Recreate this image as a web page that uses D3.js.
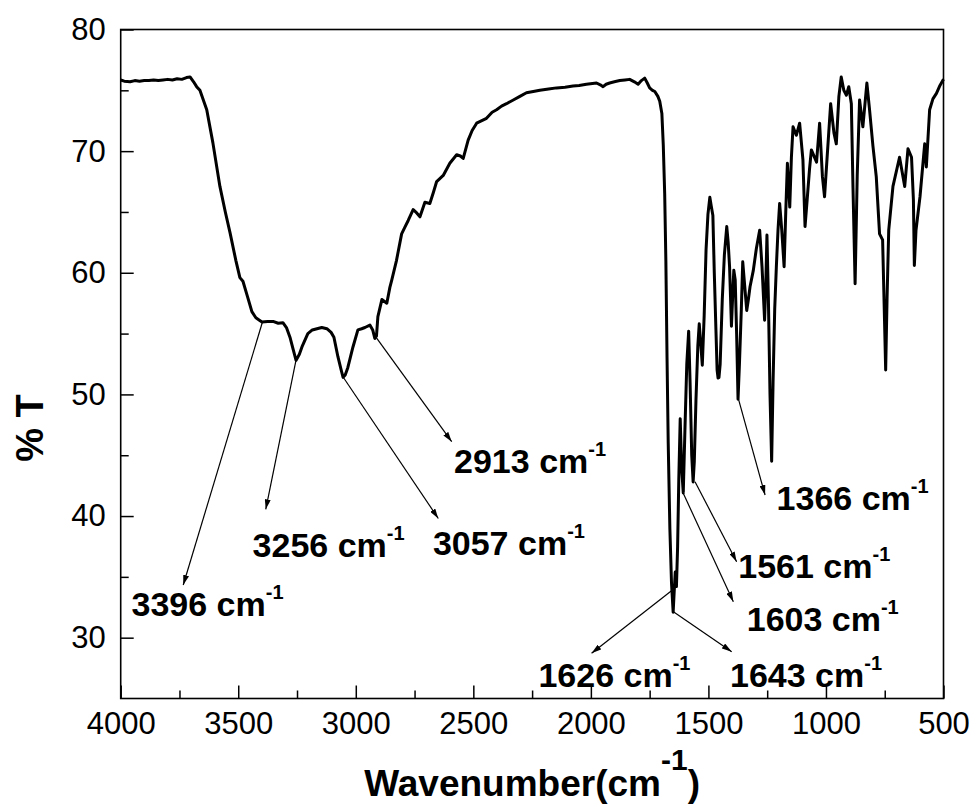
<!DOCTYPE html>
<html>
<head>
<meta charset="utf-8">
<script src="https://cdn.jsdelivr.net/npm/d3@7"></script>
<style>
  body { margin: 0; background: #fff; }
  svg { display: block; }
  text { font-family: "Liberation Sans", Arial, sans-serif; fill: #000; }
</style>
</head>
<body>
<svg id="chart" width="976" height="810"></svg>
<script>
// FTIR spectrum
const wavenumber = [
  4000, 3985, 3960, 3940, 3920, 3900, 3880, 3860, 3840, 3820, 3800, 3780, 3760, 3740, 3720, 3705,
  3690, 3677, 3663, 3634, 3608, 3578, 3555, 3535, 3510, 3493, 3480, 3460, 3442, 3425, 3410, 3399,
  3375, 3352, 3330, 3310, 3295, 3280, 3265, 3254, 3240, 3229, 3204, 3185, 3165, 3145, 3123, 3105,
  3093, 3076, 3062, 3054, 3045, 3034, 3012, 2991, 2975, 2961, 2940, 2928, 2919, 2912, 2906, 2889,
  2868, 2855, 2847, 2827, 2805, 2790, 2777, 2756, 2740, 2727, 2706, 2685, 2670, 2656, 2628, 2600,
  2571, 2555, 2543, 2522, 2505, 2486, 2444, 2420, 2401, 2380, 2359, 2330, 2302, 2274, 2245, 2217,
  2180, 2146, 2110, 2076, 2050, 2019, 1976, 1960, 1948, 1935, 1920, 1900, 1877, 1855, 1835, 1815,
  1799, 1785, 1771, 1760, 1750, 1738, 1728, 1715, 1707, 1698, 1692, 1686, 1681, 1676, 1671, 1664,
  1657, 1650, 1645, 1641, 1636, 1631, 1626, 1620, 1614, 1607, 1600, 1592, 1584, 1578, 1571, 1565,
  1560, 1553, 1545, 1539, 1532, 1526, 1518, 1510, 1502, 1494, 1488, 1481, 1475, 1468, 1463, 1459,
  1455, 1450, 1441, 1432, 1422, 1416, 1410, 1402, 1397, 1392, 1386, 1380, 1374, 1368, 1360, 1354,
  1346, 1337, 1330, 1323, 1309, 1296, 1282, 1272, 1261, 1256, 1251, 1245, 1238, 1231, 1225, 1218,
  1211, 1204, 1197, 1188, 1178, 1171, 1164, 1154, 1147, 1140, 1126, 1112, 1098, 1089, 1080, 1070,
  1062, 1040, 1027, 1015, 1006, 995, 980, 966, 956, 945, 935, 924, 913, 903, 892, 885,
  876, 867, 857, 843, 826, 815, 800, 786, 772, 759, 752, 746, 740, 733, 715, 687,
  665, 651, 636, 628, 624, 617, 600, 580, 573, 559, 545, 530, 515, 500
];
const transmittance = [
  75.85, 75.75, 75.7, 75.8, 75.75, 75.8, 75.8, 75.85, 75.8, 75.85, 75.9, 75.85, 75.95, 75.9, 76.05, 76.1,
  75.7, 75.3, 75.0, 73.4, 70.7, 67.1, 65.0, 63.3, 61.0, 59.6, 59.3, 58.0, 56.8, 56.3, 56.1, 55.95,
  56.0, 56.0, 55.85, 55.9, 55.5, 54.7, 53.6, 52.8, 53.3, 53.9, 55.0, 55.3, 55.4, 55.5, 55.4, 55.1,
  54.7, 53.1, 52.0, 51.4, 51.6, 52.2, 53.9, 55.3, 55.4, 55.5, 55.7, 55.3, 54.6, 54.8, 56.4, 57.8,
  57.5, 58.8, 59.4, 61.0, 63.2, 63.8, 64.3, 65.2, 64.9, 64.6, 65.8, 65.7, 66.6, 67.5, 68.0, 69.0,
  69.7, 69.6, 69.4, 70.9, 71.7, 72.3, 72.7, 73.2, 73.4, 73.7, 73.9, 74.2, 74.5, 74.8, 74.9, 75.0,
  75.1, 75.2, 75.25, 75.35, 75.4, 75.5, 75.6, 75.45, 75.3, 75.5, 75.6, 75.7, 75.8, 75.85, 75.9, 75.7,
  75.5, 75.8, 76.0, 75.6, 75.2, 75.0, 74.9, 74.5, 74.1, 73.1, 70.5, 66.5, 61.0, 53.0, 46.0, 39.0,
  34.5, 32.1, 34.0, 35.4, 34.2, 37.5, 43.0, 48.0, 44.0, 41.9, 47.0, 52.5, 55.2, 51.0, 45.0, 42.8,
  44.5, 49.5, 54.0, 55.8, 54.0, 52.4, 56.5, 61.9, 64.8, 66.2, 65.5, 64.7, 60.0, 55.3, 52.0, 51.35,
  51.4, 52.5, 57.8, 61.5, 63.8, 62.5, 60.5, 55.6, 58.0, 60.2, 59.4, 55.0, 49.6, 52.5, 57.0, 60.9,
  59.0, 56.9, 57.8, 58.85, 60.2, 62.0, 63.5, 60.5, 56.1, 59.0, 63.1, 58.0, 50.0, 44.5, 51.0, 57.0,
  60.5, 63.5, 65.7, 63.5, 60.5, 65.0, 69.0, 65.4, 69.5, 72.0, 71.3, 72.3, 69.3, 63.8, 66.0, 68.5,
  70.1, 69.1, 72.3, 67.9, 66.25, 69.5, 73.9, 71.5, 70.6, 74.5, 76.1, 75.0, 74.6, 75.3, 73.9, 67.0,
  59.1, 68.0, 74.2, 72.0, 75.6, 73.5, 70.4, 67.9, 63.2, 62.7, 57.0, 52.0, 58.0, 63.5, 67.1, 69.5,
  67.1, 70.2, 69.5, 66.0, 60.6, 63.5, 66.25, 70.6, 68.7, 73.4, 74.3, 74.75, 75.4, 75.9
];

const xTicks = [4000, 3500, 3000, 2500, 2000, 1500, 1000, 500];
const xMinorTicks = [3750, 3250, 2750, 2250, 1750, 1250, 750];
const yTicks = [30, 40, 50, 60, 70, 80];
const yMinorTicks = [35, 45, 55, 65, 75];

// peak annotations (all in data units)
const peakNames = ["3396", "3256", "3057", "2913", "1366", "1561", "1603", "1626", "1643"];
const arrowFromWn = [3397, 3254, 3054, 2912, 1373, 1557, 1607, 1642, 1649];
const arrowFromT  = [55.95, 52.83, 51.43, 54.64, 49.68, 42.82, 41.87, 34.08, 32.14];
const arrowToWn   = [3734, 3383, 2649, 2592, 1259, 1380, 1394, 1997, 1401];
const arrowToT    = [34.33, 40.55, 39.80, 46.11, 41.73, 36.25, 32.96, 28.72, 28.85];
const labelWn     = [3954, 3439, 2672, 2582, 1210, 1373, 1337, 2223, 1408];
const labelT      = [31.78, 36.63, 36.80, 43.54, 40.50, 34.91, 30.51, 25.95, 25.95];

const margin = { top: 29.5, right: 32.5, bottom: 111.5, left: 120.7 };
const width = 976, height = 810;

const svg = d3.select("#chart");

const x = d3.scaleLinear().domain([4000, 500]).range([margin.left, width - margin.right]);
const y = d3.scaleLinear().domain([25, 80]).range([height - margin.bottom, margin.top]);

svg.append("defs").append("marker")
  .attr("id", "arrow")
  .attr("viewBox", "0 0 10 6")
  .attr("refX", 10).attr("refY", 3)
  .attr("markerWidth", 10).attr("markerHeight", 6)
  .attr("markerUnits", "userSpaceOnUse")
  .attr("orient", "auto")
  .append("path").attr("d", "M0,0 L10,3 L0,6 Z").attr("fill", "#000");

// axes
svg.append("g")
  .attr("transform", `translate(0,${y(25)})`)
  .call(d3.axisBottom(x).tickValues(xTicks).tickFormat(d3.format("d"))
    .tickSizeInner(-13).tickSizeOuter(0).tickPadding(13));
svg.append("g")
  .attr("transform", `translate(0,${y(25)})`)
  .call(d3.axisBottom(x).tickValues(xMinorTicks).tickSizeInner(-8).tickSizeOuter(0).tickFormat(""));
svg.append("g")
  .attr("transform", `translate(${x(4000)},0)`)
  .call(d3.axisLeft(y).tickValues(yTicks).tickFormat(d3.format("d"))
    .tickSizeInner(-13).tickSizeOuter(0).tickPadding(15));
svg.append("g")
  .attr("transform", `translate(${x(4000)},0)`)
  .call(d3.axisLeft(y).tickValues(yMinorTicks).tickSizeInner(-8).tickSizeOuter(0).tickFormat(""));

svg.selectAll(".domain").remove();
svg.selectAll(".tick line").attr("stroke", "#000").attr("stroke-width", 1.5);
svg.selectAll(".tick text").attr("font-size", 31).attr("font-family", "Liberation Sans, Arial, sans-serif");

svg.append("rect")
  .attr("x", x(4000)).attr("y", y(80))
  .attr("width", x(500) - x(4000)).attr("height", y(25) - y(80))
  .attr("fill", "none").attr("stroke", "#000").attr("stroke-width", 1.6);

// spectrum
const pts = wavenumber.map((w, i) => [w, transmittance[i]]);
const line = d3.line().x(d => x(d[0])).y(d => y(d[1]));
svg.append("path")
  .datum(pts)
  .attr("d", line)
  .attr("fill", "none")
  .attr("stroke", "#000")
  .attr("stroke-width", 3)
  .attr("stroke-linejoin", "round");

// annotations
peakNames.forEach((name, i) => {
  svg.append("line")
    .attr("x1", x(arrowFromWn[i])).attr("y1", y(arrowFromT[i]))
    .attr("x2", x(arrowToWn[i])).attr("y2", y(arrowToT[i]))
    .attr("stroke", "#000").attr("stroke-width", 1.2)
    .attr("marker-end", "url(#arrow)");
  const t = svg.append("text")
    .attr("x", x(labelWn[i])).attr("y", y(labelT[i]))
    .attr("font-size", 34).attr("font-weight", "bold");
  t.append("tspan").text(name + " cm");
  t.append("tspan").attr("font-size", 20).attr("dy", -17).text("-1");
});

// axis titles
const xt = svg.append("text")
  .attr("x", (x(4000) + x(500)) / 2).attr("y", 796)
  .attr("text-anchor", "middle")
  .attr("font-size", 37).attr("font-weight", "bold");
xt.append("tspan").text("Wavenumber(cm");
xt.append("tspan").attr("font-size", 30).attr("dy", -26).text("-1");
xt.append("tspan").attr("dy", 26).text(")");

svg.append("text")
  .attr("transform", `translate(43,428) rotate(-90)`)
  .attr("text-anchor", "middle")
  .attr("font-size", 38).attr("font-weight", "bold")
  .text("% T");
</script>
</body>
</html>
